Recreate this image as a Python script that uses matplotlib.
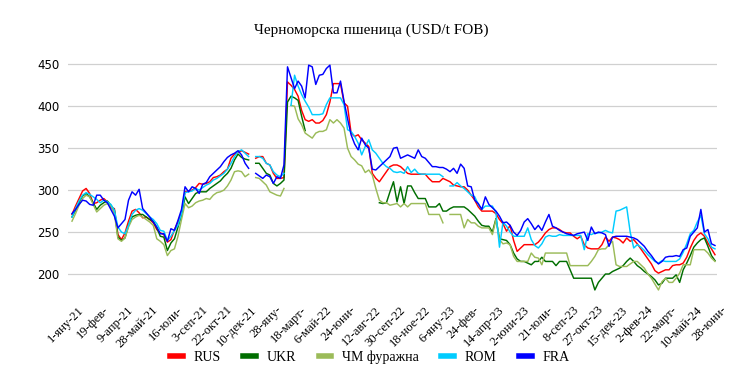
import numpy as np
import matplotlib
matplotlib.use("Agg")
import matplotlib.pyplot as plt
import matplotlib.transforms as mtransforms
from matplotlib.lines import Line2D

nan = np.nan

# weekly prices, 1 Jan 2021 .. 28 Jun 2024 (USD/t FOB)
RUS = [271, 281, 290, 299, 302, 296, 284, 285, 288, 290,
       286, 279, 278, 247, 241, 249, 263, 275, 277, 273,
       267, 268, 265, 261, 253, 249, 247, 238, 241, 253,
       262, 273, 298, 299, 300, 303, 308, 307, 308, 310,
       315, 316, 318, 322, 325, 338, 343, 345, 347, 345,
       343, nan, 338, 340, 340, 332, 330, 320, 314, 314,
       315, 429, 425, 420, 412, 395, 384, 382, 384, 380,
       380, 383, 390, 405, 427, 427, 427, 404, 400, 368,
       364, 366, 360, 356, 352, 320, 314, 310, 316, 322,
       328, 330, 330, 328, 324, 320, 319, 319, 319, 319,
       319, 314, 310, 310, 310, 314, 312, 310, 306, 305,
       304, 304, 300, 294, 288, 280, 275, 275, 275, 275,
       272, 265, 260, 251, 258, 240, 227, 231, 235, 235,
       235, 235, 238, 243, 249, 253, 255, 255, 253, 250,
       249, 249, 245, 242, 245, 235, 231, 230, 230, 230,
       235, 244, 239, 244, 243, 241, 237, 243, 239, 241,
       236, 230, 224, 218, 212, 204, 201, 203, 205, 205,
       210, 211, 211, 213, 220, 231, 240, 246, 249, 245,
       237, 230, 223]

UKR = [268, 276, 285, 293, 296, 292, 285, 277, 282, 285,
       287, 282, 276, 244, 240, 243, 258, 268, 270, 271,
       271, 268, 265, 263, 255, 245, 244, 228, 237, 242,
       256, 270, 292, 284, 290, 296, 298, 298, 298, 302,
       305, 308, 311, 316, 320, 326, 336, 343, 339, 337,
       336, nan, 332, 332, 326, 320, 318, 308, 305, 308,
       312, 405, 412, 410, 407, 388, 371, nan, nan, nan,
       nan, nan, nan, nan, nan, nan, nan, nan, nan, nan,
       nan, nan, nan, nan, nan, nan, nan, 285, 284, 285,
       298, 310, 286, 304, 284, 305, 305, 297, 290, 290,
       290, 280, 280, 280, 284, 275, 275, 278, 280, 280,
       280, 280, 277, 273, 269, 263, 258, 257, 257, 250,
       266, 242, 241, 240, 235, 225, 218, 215, 215, 213,
       211, 215, 215, 220, 215, 215, 215, 210, 215, 215,
       215, 205, 195, 195, 195, 195, 195, 195, 181, 190,
       195, 200, 200, 203, 205, 207, 210, 215, 219, 215,
       210, 207, 203, 200, 197, 193, 187, 189, 195, 195,
       195, 199, 190, 205, 213, 222, 232, 237, 241, 243,
       233, 222, 216]

FEED = [263, 272, 282, 290, 294, 292, 283, 274, 278, 282,
        284, 281, 272, 242, 239, 243, 256, 265, 268, 270,
        268, 265, 262, 258, 242, 239, 235, 222, 228, 230,
        245, 265, 284, 279, 281, 285, 287, 288, 290, 289,
        294, 297, 298, 300, 305, 312, 322, 323, 322, 316,
        319, nan, 315, 314, 310, 306, 298, 296, 294, 293,
        302, nan, 401, 400, 385, 378, 368, 365, 362, 368,
        370, 370, 372, 384, 380, 384, 380, 374, 350, 340,
        336, 331, 329, 321, 324, 318, 302, 288, 285, 285,
        282, 283, 284, 280, 284, 280, 284, 284, 284, 284,
        284, 271, 271, 271, 271, 261, nan, 271, 271, 271,
        271, 255, 265, 261, 261, 257, 255, 255, 255, 247,
        265, 241, 236, 237, 235, 221, 215, 215, 215, 215,
        225, 220, 219, 211, 225, 225, 225, 225, 225, 225,
        225, 210, 210, 210, 210, 210, 210, 215, 221, 229,
        230, 230, 235, 239, 211, 209, 209, 209, 212, 215,
        215, 211, 207, 200, 195, 188, 181, 191, 195, 190,
        190, 195, 201, 211, 211, 211, 229, 229, 229, 229,
        225, 219, 215]

ROM = [268, 278, 287, 294, 297, 295, 292, 289, 285, 288,
       286, 283, 276, 256, 250, 248, 258, 271, 276, 278,
       276, 272, 268, 265, 260, 252, 251, 240, 245, 252,
       258, 272, 297, 298, 299, 302, 300, 303, 306, 308,
       312, 314, 317, 320, 325, 332, 340, 346, 348, 344,
       340, nan, 340, 340, 338, 332, 330, 322, 318, 316,
       320, nan, 401, 437, 424, 414, 406, 399, 390, 390,
       390, 391, 402, 410, 410, 410, 410, 402, 372, 370,
       364, 356, 342, 352, 360, 348, 344, 338, 332, 328,
       326, 322, 321, 322, 320, 328, 321, 325, 320, 319,
       319, 319, 319, 319, 319, 316, nan, 305, 305, 309,
       305, 302, 298, 294, 292, 283, 277, 281, 281, 281,
       273, 232, 262, 257, 250, 245, 245, 245, 245, 255,
       241, 234, 231, 236, 244, 246, 245, 245, 247, 246,
       246, 246, 246, 246, 246, 229, 248, 247, 249, 249,
       250, 252, 250, 249, 275, 276, 278, 280, 250, 231,
       235, 232, 228, 223, 219, 215, 213, 216, 215, 215,
       215, 215, 218, 226, 236, 248, 252, 262, 270, 248,
       242, 232, 230]

FRA = [272, 277, 283, 288, 287, 283, 282, 294, 294, 288,
       285, 277, 269, 255, 260, 265, 288, 298, 294, 301,
       278, 273, 268, 262, 256, 248, 248, 239, 254, 252,
       264, 277, 304, 298, 304, 302, 296, 307, 309, 316,
       320, 324, 328, 334, 339, 342, 344, 347, 342, 332,
       326, nan, 320, 317, 314, 318, 316, 308, 316, 314,
       330, 447, 434, 421, 430, 424, 410, 449, 447, 426,
       437, 438, 445, 449, 416, 416, 430, 406, 385, 366,
       355, 348, 362, 354, 350, 325, 324, 328, 332, 336,
       340, 350, 351, 338, 340, 342, 340, 338, 348, 340,
       338, 333, 328, 328, 327, 327, 325, 322, 326, 320,
       331, 326, 305, 304, 288, 284, 277, 292, 283, 279,
       275, 269, 261, 262, 258, 250, 246, 252, 262, 266,
       260, 253, 258, 252, 262, 271, 257, 255, 252, 250,
       248, 247, 246, 248, 249, 250, 240, 256, 248, 250,
       249, 247, 233, 244, 245, 245, 245, 245, 244, 243,
       241, 237, 233, 227, 222, 216, 212, 215, 220, 221,
       221, 222, 221, 229, 231, 245, 250, 255, 277, 250,
       253, 236, 234]

tick_labels = ["1-яну-21", "19-фев-", "9-апр-21", "28-май-21", "16-юли-",
               "3-сеп-21", "22-окт-21", "10-дек-21", "28-яну-", "18-март-",
               "6-май-22", "24-юни-", "12-авг-22", "30-сеп-22", "18-ное-22",
               "6-яну-23", "24-фев-", "14-апр-23", "2-юни-23", "21-юли-",
               "8-сеп-23", "27-окт-23", "15-дек-23", "2-фев-24", "22-март-",
               "10-май-24", "28-юни-"]

series = [("RUS", RUS, "#ff0000"),
          ("UKR", UKR, "#006e00"),
          ("ЧМ фуражна", FEED, "#9bbb59"),
          ("ROM", ROM, "#00ccff"),
          ("FRA", FRA, "#0000ff")]

serif = ["Liberation Serif", "DejaVu Serif"]

fig = plt.figure(figsize=(7.42, 3.81), dpi=100)
ax = fig.add_axes([68 / 742, 1 - 297 / 381, (717 - 68) / 742, (297 - 55) / 381])

x = np.arange(len(RUS))
for name, vals, col in series:
    ax.plot(x, np.array(vals, dtype=float), color=col, lw=1.05, label=name)

ax.set_xlim(-1.13, 182.57)
ax.set_ylim(172.6, 461.1)
ax.set_yticks([200, 250, 300, 350, 400, 450])
ax.grid(axis="y", color="#d0d0d0", lw=0.9)
ax.set_axisbelow(True)
for s in ax.spines.values():
    s.set_visible(False)
ax.tick_params(axis="both", length=0)
ax.tick_params(axis="y", labelsize=8.5, pad=6, labelcolor="#000000")

ax.set_xticks(x[::7])
ax.set_xticklabels(tick_labels, rotation=45, ha="right", va="top",
                   rotation_mode="anchor", fontsize=9, family=serif)
ax.tick_params(axis="x", pad=5)
shift = mtransforms.ScaledTranslation(6 / 100, 0, fig.dpi_scale_trans)
for lab in ax.get_xticklabels():
    lab.set_transform(lab.get_transform() + shift)

fig.text(371 / 742, 1 - 30 / 381, "Черноморска пшеница (USD/t FOB)",
         ha="center", va="center", fontsize=11, family=serif)

handles = [Line2D([0], [0], color=c, lw=4) for _, _, c in series]
fig.legend(handles, [n for n, _, _ in series], loc="center",
           bbox_to_anchor=(370 / 742, 1 - 357 / 381), ncol=5, frameon=False,
           handlelength=0.9, handletextpad=0.8, columnspacing=1.6,
           prop={"family": serif, "size": 10})

fig.savefig("out.png", dpi=100)
